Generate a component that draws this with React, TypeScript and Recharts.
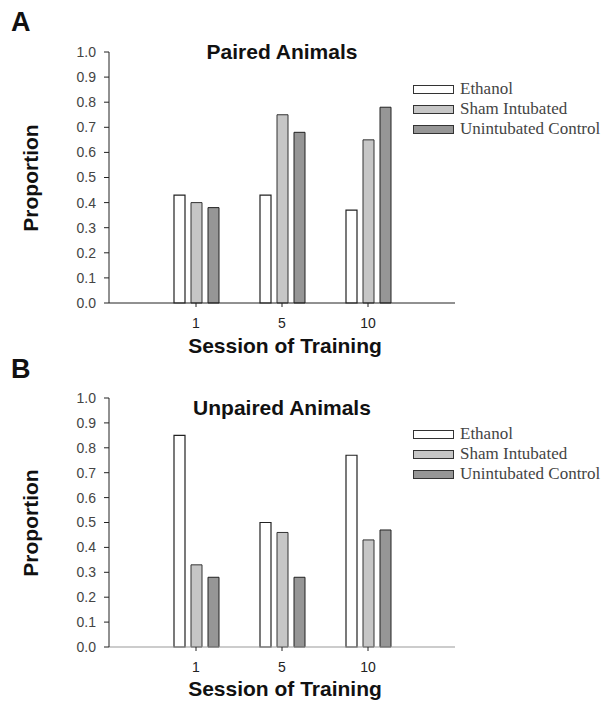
import { BarChart, Bar, XAxis, YAxis } from 'recharts';

const sessions = ['1', '5', '10'];
const yTicks = [0, 0.1, 0.2, 0.3, 0.4, 0.5, 0.6, 0.7, 0.8, 0.9, 1.0];
const seriesNames = ['Ethanol', 'Sham Intubated', 'Unintubated Control'];

const pairedEthanol = [0.43, 0.43, 0.37];
const pairedSham = [0.4, 0.75, 0.65];
const pairedControl = [0.38, 0.68, 0.78];

const unpairedEthanol = [0.85, 0.5, 0.77];
const unpairedSham = [0.33, 0.46, 0.43];
const unpairedControl = [0.28, 0.28, 0.47];

const fills = ['#ffffff', '#c6c6c6', '#969696'];
const sans = '"Liberation Sans", Arial, sans-serif';
const serif = '"Liberation Serif", "Times New Roman", serif';
const X_AXIS_H = 30;

function buildRows(eth: number[], sham: number[], ctrl: number[]) {
  return sessions.map((s, i) => ({ session: s, ethanol: eth[i], sham: sham[i], control: ctrl[i] }));
}

function LegendBox({ top }: { top: number }) {
  return (
    <div style={{ position: 'absolute', left: 413, top, fontFamily: serif, fontSize: 17, color: '#444' }}>
      {seriesNames.map((name, i) => (
        <div key={name} style={{ display: 'flex', alignItems: 'center', height: 20, whiteSpace: 'nowrap' }}>
          <span
            style={{
              display: 'inline-block',
              width: 39,
              height: 7,
              background: fills[i],
              border: '1px solid #333',
              marginRight: 6,
            }}
          />
          {name}
        </div>
      ))}
    </div>
  );
}

interface PanelProps {
  top: number;
  letter: string;
  letterTop: number;
  title: string;
  rows: { session: string; ethanol: number; sham: number; control: number }[];
  plotTop: number;
  plotBottom: number;
  legendTop: number;
  titleY: number;
  xLabelY: number;
  xAxisColor: string;
}

function Panel({ top, letter, letterTop, title, rows, plotTop, plotBottom, legendTop, titleY, xLabelY, xAxisColor }: PanelProps) {
  const h = 345;
  const mid = (plotTop + plotBottom) / 2;
  return (
    <div style={{ position: 'absolute', left: 0, top, width: 603, height: h }}>
      <BarChart
        width={603}
        height={h}
        data={rows}
        margin={{ top: plotTop, right: 148, bottom: h - plotBottom - X_AXIS_H, left: 0 }}
        barSize={11}
        barGap={6}
      >
        <XAxis
          dataKey="session"
          height={X_AXIS_H}
          padding={{ left: 44, right: 44 }}
          stroke={xAxisColor}
          tickSize={4}
          tickMargin={11}
          tickLine={{ stroke: '#222' }}
          tick={{ fill: '#222', fontSize: 14, fontFamily: sans }}
        />
        <YAxis
          width={109}
          domain={[0, 1]}
          ticks={yTicks}
          interval={0}
          stroke="#222"
          tickSize={5}
          tickMargin={8}
          tickFormatter={(v: number) => v.toFixed(1)}
          tick={{ fill: '#444', fontSize: 14, fontFamily: sans }}
        />
        <Bar dataKey="ethanol" name={seriesNames[0]} fill={fills[0]} stroke="#222" strokeWidth={1.2} isAnimationActive={false} />
        <Bar dataKey="sham" name={seriesNames[1]} fill={fills[1]} stroke="#333" strokeWidth={1} isAnimationActive={false} />
        <Bar dataKey="control" name={seriesNames[2]} fill={fills[2]} stroke="#222" strokeWidth={1} isAnimationActive={false} />
      </BarChart>
      <LegendBox top={legendTop} />
      <div
        style={{
          position: 'absolute',
          left: 11,
          top: letterTop - 5,
          fontFamily: sans,
          fontWeight: 'bold',
          fontSize: 27,
          color: '#111',
          lineHeight: '30px',
        }}
      >
        {letter}
      </div>
      <div
        style={{
          position: 'absolute',
          left: 132,
          width: 300,
          top: titleY - 12,
          textAlign: 'center',
          fontFamily: sans,
          fontWeight: 'bold',
          fontSize: 21,
          lineHeight: '24px',
          color: '#111',
        }}
      >
        {title}
      </div>
      <div
        style={{
          position: 'absolute',
          left: 31 - 70,
          width: 140,
          top: mid - 12,
          textAlign: 'center',
          transform: 'rotate(-90deg)',
          fontFamily: sans,
          fontWeight: 'bold',
          fontSize: 21,
          lineHeight: '24px',
          color: '#111',
        }}
      >
        Proportion
      </div>
      <div
        style={{
          position: 'absolute',
          left: 135,
          width: 300,
          top: xLabelY - 12,
          textAlign: 'center',
          fontFamily: sans,
          fontWeight: 'bold',
          fontSize: 21,
          lineHeight: '24px',
          color: '#111',
        }}
      >
        Session of Training
      </div>
    </div>
  );
}

export default function App() {
  return (
    <div style={{ position: 'absolute', left: 0, top: 0, width: 603, height: 703, background: '#fff' }}>
      <Panel
        top={0}
        letter="A"
        letterTop={12}
        title="Paired Animals"
        rows={buildRows(pairedEthanol, pairedSham, pairedControl)}
        plotTop={52}
        plotBottom={303}
        legendTop={79}
        titleY={52}
        xLabelY={346}
        xAxisColor="#222"
      />
      <Panel
        top={345}
        letter="B"
        letterTop={14}
        title="Unpaired Animals"
        rows={buildRows(unpairedEthanol, unpairedSham, unpairedControl)}
        plotTop={53}
        plotBottom={302}
        legendTop={79}
        titleY={63}
        xLabelY={344}
        xAxisColor="#999"
      />
    </div>
  );
}
